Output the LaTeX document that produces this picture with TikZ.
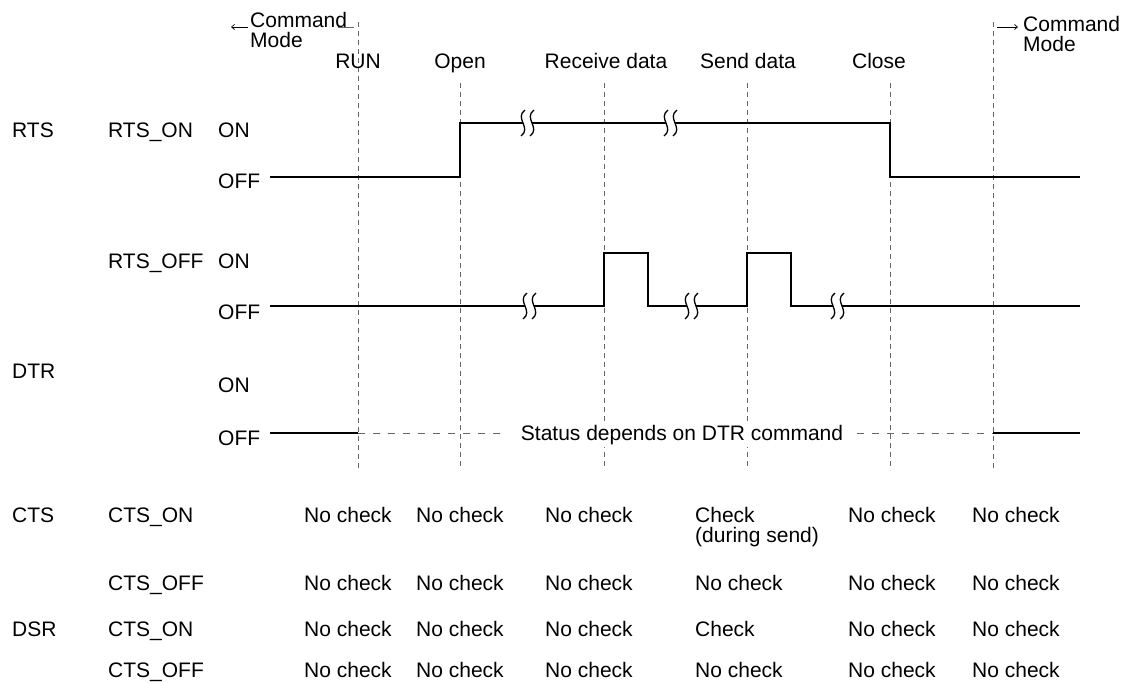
\documentclass[tikz,border=0pt]{standalone}
\usepackage{fontspec}
\setmainfont{Liberation Sans}
\usetikzlibrary{arrows.meta}
\begin{document}
\begin{tikzpicture}[x=1pt,y=-1pt,
  lbl/.style={anchor=base west, inner sep=0pt, font=\fontsize{21}{24}\selectfont},
  hdr/.style={anchor=base, inner sep=0pt, font=\fontsize{21}{24}\selectfont},
  sig/.style={line width=2.4pt, line join=miter, line cap=butt},
  guide/.style={black!60, line width=0.9pt, dash pattern=on 5pt off 4pt},
  hguide/.style={black!60, line width=0.9pt, dash pattern=on 7pt off 8pt},
  thinarrow/.style={line width=0.7pt, -{Straight Barb[length=3pt,width=5pt]}},
  brk/.style={line width=1.3pt},
  brkpic/.pic={
    \fill[white] (2,-13) .. controls (-9,-5) and (9,5) .. (-2,13) -- (7,13) .. controls (18,5) and (0,-5) .. (11,-13) -- cycle;
    \draw[brk] (2,-13) .. controls (-9,-5) and (9,5) .. (-2,13);
    \draw[brk] (11,-13) .. controls (0,-5) and (18,5) .. (7,13);
  }]
\useasboundingbox (0,0) rectangle (1128,683);

% vertical guides
\coordinate (g1t) at (358,22);  \coordinate (g1b) at (358,470);
\coordinate (g2t) at (460,83);  \coordinate (g2b) at (460,470);
\coordinate (g3t) at (604,83);  \coordinate (g3b) at (604,470);
\coordinate (g4t) at (747,83);  \coordinate (g4b) at (747,470);
\coordinate (g5t) at (890,83);  \coordinate (g5b) at (890,470);
\coordinate (g6t) at (993,22);  \coordinate (g6b) at (993,470);
\foreach \i in {1,...,6} \draw[guide] (g\i t) -- (g\i b);

% top labels
\node[lbl] (cml) at (250,27) {Command};
\node[lbl] (mdl) at (250,47) {Mode};
\coordinate (al0) at (248,27); \coordinate (al1) at (231,27);
\draw[thinarrow] (al0) -- (al1);
\coordinate (ul0) at (338,27); \coordinate (ul1) at (354,27);
\draw[black!60, line width=0.9pt] (ul0) -- (ul1);
\node[lbl] (cmr) at (1023,31) {Command};
\node[lbl] (mdr) at (1023,51) {Mode};
\coordinate (ar0) at (997,27); \coordinate (ar1) at (1018,27);
\draw[thinarrow] (ar0) -- (ar1);

\node[hdr] (run) at (358,68) {RUN};
\node[hdr] (open) at (460,68) {Open};
\node[hdr] (recv) at (606,68) {Receive data};
\node[hdr] (send) at (748,68) {Send data};
\node[hdr] (close) at (879,68) {Close};

% left labels
\node[lbl] (rts) at (12,137) {RTS};
\node[lbl] (rtson) at (108,137) {RTS\_ON};
\node[lbl] (on1) at (218,137) {ON};
\node[lbl] (off1) at (218,188) {OFF};
\node[lbl] (rtsoff) at (108,268) {RTS\_OFF};
\node[lbl] (on2) at (218,268) {ON};
\node[lbl] (off2) at (218,319) {OFF};
\node[lbl] (dtr) at (12,378) {DTR};
\node[lbl] (on3) at (218,392) {ON};
\node[lbl] (off3) at (218,445) {OFF};

% RTS_ON waveform
\draw[sig] (270,177) -- (460,177) -- (460,123) -- (890,123) -- (890,177) -- (1080,177);
\path (523,123) pic {brkpic};
\path (666,123) pic {brkpic};

% RTS_OFF waveform
\draw[sig] (270,306) -- (604,306) -- (604,253) -- (648,253) -- (648,306) -- (747,306) -- (747,253) -- (791,253) -- (791,306) -- (1080,306);
\path (525,306) pic {brkpic};
\path (687,306) pic {brkpic};
\path (833,306) pic {brkpic};

% DTR
\draw[sig] (270,433) -- (358,433);
\draw[sig] (993,433) -- (1080,433);
\node[hdr, fill=white, inner xsep=14pt, inner ysep=3pt] (status) at (682,440) {Status depends on DTR command};
\coordinate (dl) at (0,433);
\draw[hguide] (358,433) -- (status.west |- dl);
\draw[hguide] (status.east |- dl) -- (993,433);

% table
\node[lbl] (cts) at (12,522) {CTS};
\node[lbl] (ctson) at (108,522) {CTS\_ON};
\node[lbl] (ctsoff) at (108,590) {CTS\_OFF};
\node[lbl] (dsr) at (12,636) {DSR};
\node[lbl] (dsron) at (108,636) {CTS\_ON};
\node[lbl] (dsroff) at (108,677) {CTS\_OFF};

\foreach \r/\y in {a/522,b/590,c/636,d/677}{
  \node[lbl] (\r1) at (304,\y) {No check};
  \node[lbl] (\r2) at (416,\y) {No check};
  \node[lbl] (\r3) at (545,\y) {No check};
  \node[lbl] (\r5) at (848,\y) {No check};
  \node[lbl] (\r6) at (972,\y) {No check};
}
\node[lbl] (a4) at (695,522) {Check};
\node[lbl] (a4b) at (695,542) {(during send)};
\node[lbl] (b4) at (695,590) {No check};
\node[lbl] (c4) at (695,636) {Check};
\node[lbl] (d4) at (695,677) {No check};
\end{tikzpicture}
\end{document}
